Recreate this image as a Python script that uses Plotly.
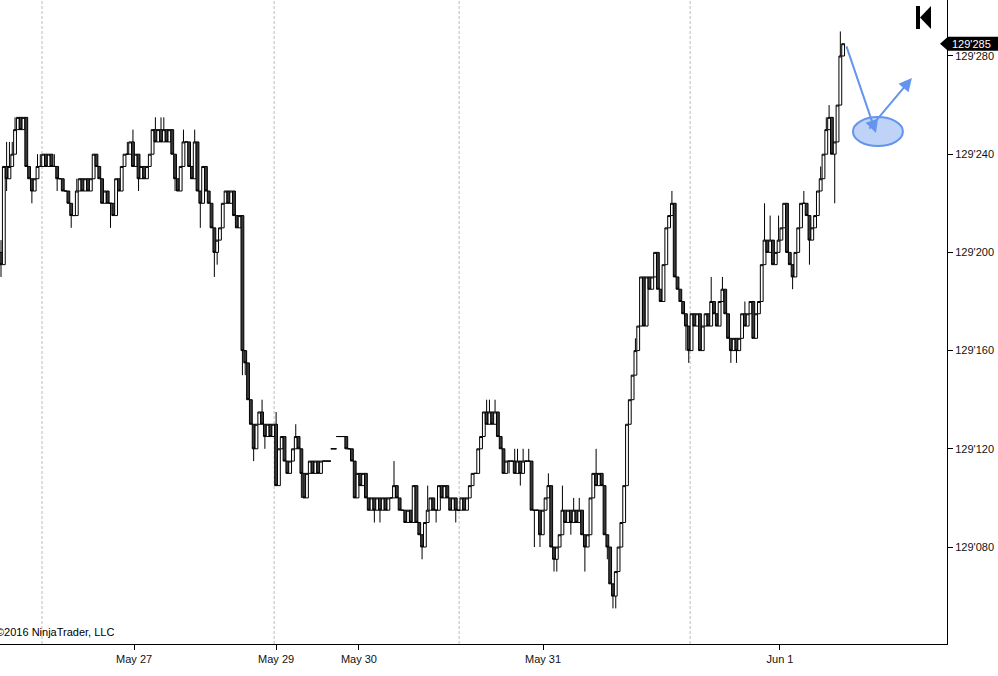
import plotly.graph_objects as go

# price offsets above 129'000 (half-32nd ticks), one 5-unit step per tick
first_open = 200
closes = [
    195, 235, 230, 235, 240, 250, 255, 250, 255, 235,
    230, 225, 230, 235, 235, 240, 235, 240, 235, 235,
    230, 230, 225, 225, 220, 215, 215, 225, 230, 225,
    230, 225, 230, 240, 235, 230, 220, 225, 220, 220,
    215, 230, 225, 235, 240, 240, 245, 235, 240, 230,
    235, 230, 235, 240, 250, 245, 250, 245, 250, 245,
    250, 240, 230, 225, 235, 245, 245, 235, 230, 245,
    225, 220, 235, 225, 220, 210, 200, 205, 210, 220,
    225, 220, 225, 215, 210, 215, 160, 155, 140, 130,
    120, 130, 135, 130, 125, 130, 125, 130, 105, 120,
    125, 115, 110, 115, 120, 125, 120, 110, 100, 110,
    115, 110, 115, 110, 115, 115, 115, 115, 120, 120,
    125, 125, 125, 120, 120, 115, 100, 110, 105, 110,
    100, 95, 100, 95, 100, 95, 100, 95, 100, 100,
    105, 100, 95, 95, 90, 95, 90, 105, 90, 85,
    80, 90, 95, 100, 95, 95, 105, 100, 105, 100,
    95, 100, 95, 95, 100, 95, 100, 105, 110, 110,
    120, 125, 135, 130, 135, 130, 135, 125, 120, 110,
    115, 115, 115, 110, 115, 110, 115, 115, 115, 95,
    95, 95, 85, 95, 100, 105, 80, 75, 80, 85,
    95, 90, 95, 90, 95, 90, 95, 85, 80, 85,
    100, 110, 105, 110, 105, 85, 80, 65, 60, 70,
    80, 90, 105, 130, 140, 150, 160, 170, 190, 170,
    190, 185, 190, 200, 185, 180, 195, 210, 215, 220,
    190, 185, 180, 175, 170, 160, 175, 170, 175, 160,
    170, 175, 170, 180, 175, 170, 180, 185, 175, 165,
    160, 165, 160, 165, 175, 170, 175, 180, 165, 175,
    180, 195, 205, 200, 205, 195, 200, 205, 210, 220,
    200, 195, 190, 200, 210, 220, 220, 215, 205, 210,
    215, 225, 230, 240, 250, 255, 240, 245, 260, 280,
    285,
]
gap_opens = {118: 120, 120: 125}
wick_hi = {
    0: 205, 2: 245, 3: 245, 4: 245, 5: 255, 13: 240, 14: 240, 19: 240,
    27: 230, 45: 245, 47: 250, 55: 255, 57: 255, 58: 255, 65: 250,
    69: 250, 93: 140, 98: 135, 105: 130, 140: 115, 152: 105, 173: 140,
    174: 140, 176: 140, 183: 120, 184: 120, 186: 120, 188: 120, 195: 110,
    200: 105, 204: 100, 206: 100, 212: 120, 226: 165, 239: 225, 253: 190,
    257: 190, 265: 180, 272: 220, 274: 215, 277: 215, 286: 225, 292: 235,
    294: 255, 295: 260, 299: 290,
}
wick_lo = {
    0: 190, 2: 225, 11: 220, 20: 225, 25: 210, 39: 210, 49: 225, 62: 225,
    71: 210, 76: 190, 77: 195, 86: 150, 87: 150, 90: 115, 94: 120,
    107: 100, 133: 90, 135: 90, 150: 75, 155: 90, 162: 90, 181: 110,
    185: 105, 190: 80, 192: 80, 197: 70, 198: 70, 203: 85, 208: 70,
    216: 75, 218: 55, 219: 55, 244: 160, 245: 155, 260: 155, 262: 155,
    282: 185, 288: 195, 297: 220,
}

session_breaks = [14.6, 97.3, 163.2, 245.5]
day_ticks = [47.4, 98.0, 127.5, 193.1, 277.5]
day_labels = ['May 27', 'May 29', 'May 30', 'May 31', 'Jun 1']
price_ticks = [80, 120, 160, 200, 240, 280]

opens = [first_open] + closes[:-1]
for k, v in gap_opens.items():
    opens[k] = v
highs = [wick_hi.get(i, max(o, c)) for i, (o, c) in enumerate(zip(opens, closes))]
lows = [wick_lo.get(i, min(o, c)) for i, (o, c) in enumerate(zip(opens, closes))]
bars = list(range(len(closes)))

Y0, Y1 = 40.5, 302.8
X0, X1 = -0.36, 337.0


def py(v):
    return (v - Y0) / (Y1 - Y0)


fig = go.Figure()

fig.add_trace(go.Candlestick(
    x=bars, open=opens, high=highs, low=lows, close=closes,
    increasing=dict(line=dict(color='black', width=1), fillcolor='white'),
    decreasing=dict(line=dict(color='black', width=1), fillcolor='#3a3a3a'),
    whiskerwidth=0,
    showlegend=False,
))

shapes = []
for b in session_breaks:
    shapes.append(dict(type='line', xref='x', yref='paper', x0=b, x1=b, y0=0, y1=1,
                       line=dict(color='#bcbcbc', width=1, dash='3px,2px'), layer='below'))

# drawing: ellipse
shapes.append(dict(type='circle', xref='x', yref='y', x0=303.5, x1=321.3, y0=243.3, y1=255.1,
                   fillcolor='rgba(100,149,237,0.42)', line=dict(color='#6495ED', width=2)))

# last price marker on the right scale
last = closes[-1]
h = 7 / 644
yl = py(last)
shapes.append(dict(type='path', xref='paper', yref='paper',
                   path=(f'M 0.9926 {yl} L 1.001 {yl + h} L 1.06 {yl + h} '
                         f'L 1.06 {yl - h} L 1.001 {yl - h} Z'),
                   fillcolor='black', line=dict(color='black', width=0)))

# scroll-to-start button glyph
shapes.append(dict(type='rect', xref='paper', yref='paper',
                   x0=916 / 947, x1=920 / 947, y0=1 - 29 / 644, y1=1 - 6 / 644,
                   fillcolor='black', line=dict(width=0)))
shapes.append(dict(type='path', xref='paper', yref='paper',
                   path=(f'M {920 / 947} {1 - 17.5 / 644} L {931 / 947} {1 - 6 / 644} '
                         f'L {931 / 947} {1 - 29 / 644} Z'),
                   fillcolor='black', line=dict(width=0)))

annotations = [
    dict(x=311.7, y=248.6, ax=301.0, ay=284.5, xref='x', yref='y', axref='x', ayref='y',
         text='', showarrow=True, arrowhead=2, arrowsize=1.3, arrowwidth=2, arrowcolor='#6495ED'),
    dict(x=324.5, y=271.0, ax=308.9, ay=249.8, xref='x', yref='y', axref='x', ayref='y',
         text='', showarrow=True, arrowhead=2, arrowsize=1.3, arrowwidth=2, arrowcolor='#6495ED'),
    dict(x=1.003, y=yl, xref='paper', yref='paper', xanchor='left', yanchor='middle',
         text=f"129'{last:03d}", showarrow=False,
         font=dict(color='white', size=11, family='Liberation Sans, Arial')),
    dict(x=0, y=1 - 632 / 644, xref='paper', yref='paper', xanchor='left', yanchor='middle',
         xshift=-6, text='©2016 NinjaTrader, LLC', showarrow=False,
         font=dict(color='black', size=11, family='Liberation Sans, Arial')),
]

fig.update_layout(
    width=998, height=676,
    margin=dict(l=0, r=51, t=0, b=32),
    paper_bgcolor='white', plot_bgcolor='white',
    font=dict(family='Liberation Sans, Arial', size=11, color='black'),
    shapes=shapes, annotations=annotations,
    showlegend=False,
    boxgap=0, boxgroupgap=0,
    xaxis=dict(range=[X0, X1], rangeslider=dict(visible=False), showgrid=False, zeroline=False,
               tickvals=day_ticks, ticktext=day_labels, ticks='outside', ticklen=5,
               tickcolor='black', showline=True, linecolor='black', linewidth=1,
               tickfont=dict(size=11, color='#111')),
    yaxis=dict(range=[Y0, Y1], side='right', showgrid=False, zeroline=False,
               tickvals=price_ticks, ticktext=[f"129'{v:03d}" for v in price_ticks],
               ticks='outside', ticklen=5, tickcolor='black', showline=True,
               linecolor='black', linewidth=1, tickfont=dict(size=11, color='#111')),
)

fig.write_html('out.html', config={'displayModeBar': False},
               post_script="document.body.style.margin='0';")
